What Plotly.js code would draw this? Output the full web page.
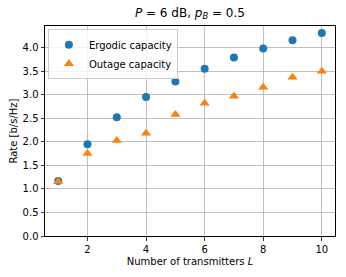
<!DOCTYPE html>
<html>
<head>
<meta charset="utf-8">
<script src="https://cdn.plot.ly/plotly-3.0.1.min.js"></script>
<style>html,body{margin:0;padding:0;background:#fff}#chart{width:346px;height:277px}</style>
</head>
<body>
<div id="chart"></div>
<script>
const transmitters = [1, 2, 3, 4, 5, 6, 7, 8, 9, 10];
const ergodicCapacity = [1.17, 1.95, 2.52, 2.95, 3.28, 3.55, 3.79, 3.98, 4.16, 4.31];
const outageCapacity = [1.16, 1.75, 2.03, 2.18, 2.58, 2.82, 2.97, 3.16, 3.37, 3.50];
const xTicks = [2, 4, 6, 8, 10];

const font = {family: 'DejaVu Sans', size: 10, color: '#000'};
const traces = [
  {x: transmitters, y: ergodicCapacity, mode: 'markers', name: 'Ergodic capacity',
   marker: {symbol: 'circle', size: 8, color: '#1f77b4'}},
  {x: transmitters, y: outageCapacity, mode: 'markers', name: 'Outage capacity',
   marker: {symbol: 'triangle-up', size: 9, color: '#ff7f0e'}}
];
const axisCommon = {
  showline: true, mirror: true, linecolor: '#000', linewidth: 1,
  showgrid: true, gridcolor: '#b0b0b0', gridwidth: 0.8,
  ticks: 'outside', ticklen: 3.5, tickwidth: 0.8, tickcolor: '#000',
  zeroline: false, tickfont: font
};
const layout = {
  width: 346, height: 277,
  margin: {l: 45, r: 11, t: 26, b: 41},
  paper_bgcolor: '#fff', plot_bgcolor: '#fff',
  font: font,
  title: {text: '<i>P</i> = 6 dB, <i>p</i><sub><i>B</i></sub> = 0.5', x: 0.549, xanchor: 'center', y: 0.955, yanchor: 'middle',
          font: {family: 'DejaVu Sans', size: 12, color: '#000'}},
  xaxis: Object.assign({}, axisCommon, {range: [0.55, 10.45], tickvals: xTicks,
    title: {text: 'Number of transmitters <i>L</i>', font: font, standoff: 4}}),
  yaxis: Object.assign({}, axisCommon, {range: [0, 4.46], dtick: 0.5, tick0: 0, tickformat: '.1f',
    title: {text: 'Rate [b/s/Hz]', font: font, standoff: 3}}),
  showlegend: true,
  legend: {x: 0.01, y: 0.985, xanchor: 'left', yanchor: 'top', bgcolor: 'rgba(255,255,255,0.8)',
           bordercolor: '#cccccc', borderwidth: 1, font: font, tracegroupgap: 0, itemwidth: 30}
};
Plotly.newPlot('chart', traces, layout, {displayModeBar: false, staticPlot: true});
</script>
</body>
</html>
